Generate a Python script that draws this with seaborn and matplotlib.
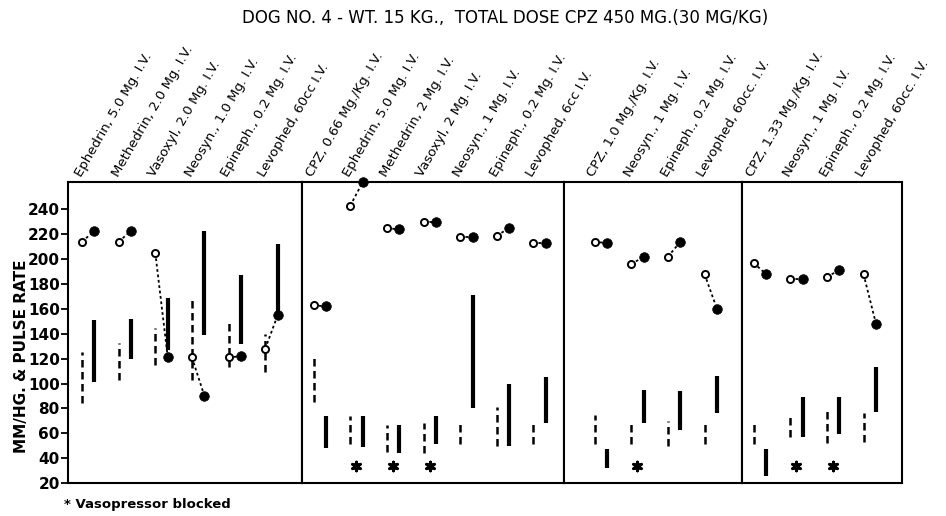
import numpy as np
import pandas as pd
import matplotlib
matplotlib.use("Agg")
import matplotlib.pyplot as plt
import seaborn as sns

sns.set_theme(style="white")
plt.rcParams['font.family'] = ['DejaVu Sans']
plt.rcParams.update({"text.color": "black", "axes.labelcolor": "black",
                     "xtick.color": "black", "ytick.color": "black"})

# treatments, grouped in four panels
labels = [
    "Ephedrin, 5.0 Mg. I.V.", "Methedrin, 2.0 Mg. I.V.", "Vasoxyl, 2.0 Mg. I.V.",
    "Neosyn., 1.0 Mg. I.V.", "Epineph., 0.2 Mg. I.V.", "Levophed, 60cc I.V.",
    "CPZ, 0.66 Mg./Kg. I.V.", "Ephedrin, 5.0 Mg. I.V.", "Methedrin, 2 Mg. I.V.",
    "Vasoxyl, 2 Mg. I.V.", "Neosyn., 1 Mg. I.V.", "Epineph., 0.2 Mg. I.V.", "Levophed, 6cc I.V.",
    "CPZ, 1.0 Mg./Kg. I.V.", "Neosyn., 1 Mg. I.V.", "Epineph., 0.2 Mg. I.V.", "Levophed, 60cc. I.V.",
    "CPZ, 1.33 Mg./Kg. I.V.", "Neosyn., 1 Mg. I.V.", "Epineph., 0.2 Mg. I.V.", "Levophed, 60cc. I.V.",
]
panel = [0, 0, 0, 0, 0, 0, 1, 1, 1, 1, 1, 1, 1, 2, 2, 2, 2, 3, 3, 3, 3]
slot = [0, 1, 2, 3, 4, 5, 0, 1, 2, 3, 4, 5, 6, 0, 1, 2, 3, 0, 1, 2, 3]

# blood pressure range (mm Hg) before / after
pre_lo = [84, 103, 115, 103, 113, 109, 85, 51, 45, 44, 51, 50, 51, 51, 51, 50, 51, 51, 57, 52, 53]
pre_hi = [125, 133, 145, 170, 151, 140, 121, 74, 67, 68, 68, 81, 68, 75, 70, 70, 71, 69, 76, 78, 76]
post_lo = [101, 120, 127, 139, 132, 154, 48, 49, 44, 51, 80, 50, 68, 32, 68, 63, 76, 26, 57, 59, 77]
post_hi = [151, 152, 169, 223, 187, 212, 74, 74, 67, 74, 171, 100, 105, 47, 95, 94, 106, 47, 89, 89, 113]

# pulse rate before / after
pulse_pre = [214, 214, 205, 121, 121, 128, 163, 243, 225, 230, 218, 219, 213, 214, 196, 202, 188, 197, 184, 186, 188]
pulse_post = [223, 223, 121, 90, 122, 155, 162, 262, 224, 230, 218, 225, 213, 213, 202, 214, 160, 188, 184, 191, 148]

blocked = [0, 0, 0, 0, 0, 0, 0, 1, 1, 1, 0, 0, 0, 0, 1, 0, 0, 0, 1, 1, 0]

yticks = [20, 40, 60, 80, 100, 120, 140, 160, 180, 200, 220, 240]

df = pd.DataFrame(dict(label=labels, panel=panel, slot=slot, pre_lo=pre_lo, pre_hi=pre_hi,
                       post_lo=post_lo, post_hi=post_hi, pulse_pre=pulse_pre,
                       pulse_post=pulse_post, blocked=blocked))

xlims = [(-0.55, 5.82), (-0.5, 6.67), (-1.0, 3.84), (-0.5, 3.88)]
ratios = [b - a for a, b in xlims]
off = 0.17

fig, axes = plt.subplots(1, 4, sharey=True, figsize=(9.46, 5.16), dpi=100,
                         gridspec_kw=dict(width_ratios=ratios, wspace=0))
fig.subplots_adjust(left=0.072, right=0.9535, top=0.647, bottom=0.064)

for p, ax in enumerate(axes):
    sub = df[df.panel == p].copy()
    sub["x_pre"] = sub.slot - off
    sub["x_post"] = sub.slot + off

    # pressure ranges
    ax.vlines(sub.x_pre, sub.pre_lo, sub.pre_hi, color="black", lw=1.8,
              linestyles=[(0, (3, 1.8))])
    ax.vlines(sub.x_post, sub.post_lo, sub.post_hi, color="black", lw=3.0)

    # pulse rate change
    for _, r in sub.iterrows():
        ax.plot([r.x_pre, r.x_post], [r.pulse_pre, r.pulse_post], color="black",
                lw=1.3, ls=(0, (1.5, 1.5)), zorder=2, clip_on=False)
    sns.scatterplot(data=sub, x="x_pre", y="pulse_pre", ax=ax, s=26, color="white",
                    edgecolor="black", linewidth=1.4, zorder=3, clip_on=False)
    sns.scatterplot(data=sub, x="x_post", y="pulse_post", ax=ax, s=48, color="black",
                    edgecolor="black", linewidth=0.5, zorder=3, clip_on=False)

    stars = sub[sub.blocked == 1]
    ax.scatter(stars.slot, np.full(len(stars), 34), marker=(6, 2, 0), s=38,
               color="black", linewidths=2.2)

    for _, r in sub.iterrows():
        ax.text(r.slot - 0.12, 1.01, r.label, transform=ax.get_xaxis_transform(),
                rotation=60, rotation_mode="anchor", ha="left", va="bottom",
                fontsize=9.5, color="black")

    ax.set_xlim(*xlims[p])
    ax.set_ylim(20, 262)
    ax.set_xticks([])
    ax.set_xlabel("")
    ax.set_ylabel("")
    for s in ax.spines.values():
        s.set_color("black")
        s.set_linewidth(1.5)

axes[0].set_yticks(yticks)
axes[0].tick_params(axis="y", direction="out", length=5, width=1.3, left=True,
                    labelsize=11, pad=1)
for t in axes[0].get_yticklabels():
    t.set_fontweight("bold")
for ax in axes[1:]:
    ax.tick_params(axis="y", left=False)

fig.text(0.534, 0.965, "DOG NO. 4 - WT. 15 KG.,  TOTAL DOSE CPZ 450 MG.(30 MG/KG)",
         ha="center", va="center", fontsize=12, fontweight="medium")
fig.text(0.023, 0.31, "MM/HG. & PULSE RATE", rotation=90, ha="center", va="center",
         fontsize=11, fontweight="bold")
fig.text(0.068, 0.022, "* Vasopressor blocked", ha="left", va="center", fontsize=9.5,
         fontweight="bold")

fig.savefig("out.png", dpi=100)
